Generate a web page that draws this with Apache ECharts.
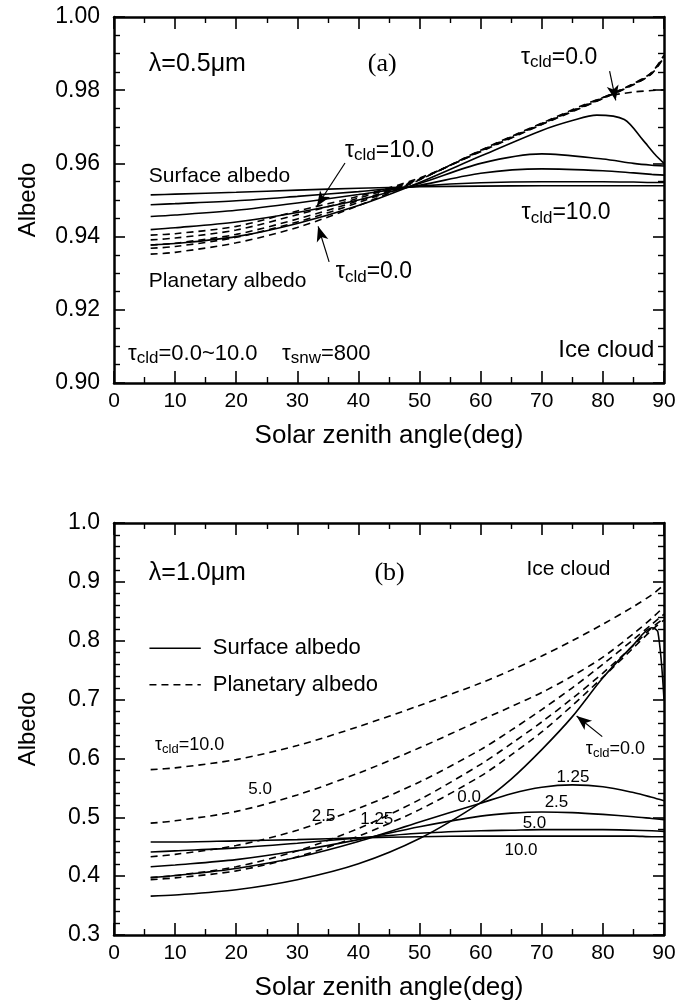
<!DOCTYPE html>
<html lang="en">
<head>
<meta charset="UTF-8">
<title>Albedo vs solar zenith angle</title>
<script src="https://cdn.jsdelivr.net/npm/echarts@6/dist/echarts.min.js"></script>
<style>
    html, body { margin: 0; padding: 0; background: #fff; }
    #main { width: 680px; height: 1006px; }
</style>
</head>
<body>
<div id="main"></div>
<script>
// ---- panel (a): lambda = 0.5 um ----
var angA  = [6, 10, 20, 30, 40, 50, 60, 70, 80, 85, 88, 90];
var angA0 = [6, 10, 20, 30, 40, 50, 60, 70, 75, 79, 83.5, 86.5, 88.5, 90];
// surface albedo (solid), tau_cld = 10, 5, 2.5, 1.25, 0
var surfA10  = [0.9514, 0.9516, 0.9521, 0.9527, 0.9532, 0.9536, 0.9538, 0.9539, 0.9539, 0.9539, 0.9539, 0.9539];
var surfA5   = [0.9487, 0.9490, 0.9498, 0.9510, 0.9523, 0.9538, 0.9547, 0.9550, 0.9550, 0.9549, 0.9548, 0.9548];
var surfA25  = [0.9455, 0.9459, 0.9472, 0.9492, 0.9515, 0.9540, 0.9573, 0.9585, 0.9580, 0.9574, 0.9570, 0.9568];
var surfA125 = [0.9419, 0.9424, 0.9440, 0.9466, 0.9500, 0.9545, 0.9600, 0.9626, 0.9612, 0.9600, 0.9595, 0.9593];
var surfA0   = [0.9377, 0.9381, 0.9400, 0.9436, 0.9485, 0.9548, 0.9620, 0.9690, 0.9717, 0.9732, 0.9720, 0.9665, 0.9625, 0.9600];
// planetary albedo (dashed)
var planA10  = [0.9404, 0.9408, 0.9428, 0.9470, 0.9510, 0.9560, 0.9632, 0.9706, 0.9777, 0.9815, 0.9845, 0.9890];
var planA5   = [0.9391, 0.9396, 0.9418, 0.9460, 0.9505, 0.9558, 0.9633, 0.9707, 0.9778, 0.9816, 0.9846, 0.9892];
var planA25  = [0.9377, 0.9382, 0.9406, 0.9448, 0.9498, 0.9557, 0.9634, 0.9708, 0.9779, 0.9817, 0.9848, 0.9894];
var planA125 = [0.9368, 0.9373, 0.9398, 0.9440, 0.9493, 0.9556, 0.9635, 0.9709, 0.9780, 0.9818, 0.9849, 0.9896];
var planA0   = [0.9352, 0.9357, 0.9383, 0.9425, 0.9485, 0.9555, 0.9636, 0.9710, 0.9780, 0.9795, 0.9799, 0.9801];

// ---- panel (b): lambda = 1.0 um ----
var angB  = [6, 10, 20, 30, 40, 50, 60, 65, 70, 75, 80, 85, 88, 90];
var angB0 = [6, 10, 20, 30, 40, 50, 60, 65, 70, 75, 80, 85, 88, 89, 90];
var surfB10  = [0.458, 0.458, 0.460, 0.462, 0.465, 0.467, 0.468, 0.468, 0.468, 0.468, 0.468, 0.468, 0.467, 0.467];
var surfB5   = [0.441, 0.443, 0.448, 0.456, 0.465, 0.473, 0.477, 0.478, 0.479, 0.479, 0.479, 0.478, 0.477, 0.476];
var surfB25  = [0.416, 0.419, 0.428, 0.443, 0.462, 0.484, 0.502, 0.507, 0.509, 0.508, 0.505, 0.501, 0.498, 0.496];
var surfB125 = [0.3975, 0.401, 0.413, 0.432, 0.459, 0.492, 0.524, 0.540, 0.551, 0.555, 0.552, 0.542, 0.534, 0.528];
var surfB0   = [0.366, 0.368, 0.377, 0.394, 0.421, 0.464, 0.525, 0.565, 0.615, 0.671, 0.737, 0.793, 0.822, 0.815, 0.700];
var planB10  = [0.581, 0.584, 0.598, 0.622, 0.654, 0.690, 0.728, 0.750, 0.774, 0.800, 0.828, 0.858, 0.878, 0.895];
var planB5   = [0.490, 0.494, 0.510, 0.538, 0.575, 0.618, 0.665, 0.688, 0.712, 0.740, 0.772, 0.812, 0.838, 0.858];
var planB25  = [0.433, 0.437, 0.452, 0.478, 0.515, 0.560, 0.615, 0.648, 0.683, 0.720, 0.760, 0.802, 0.828, 0.845];
var planB125 = [0.3975, 0.401, 0.416, 0.443, 0.481, 0.530, 0.590, 0.625, 0.662, 0.702, 0.745, 0.792, 0.822, 0.838];
var planB0   = [0.394, 0.397, 0.409, 0.433, 0.468, 0.513, 0.570, 0.606, 0.645, 0.690, 0.738, 0.788, 0.818, 0.835];

// tick labels
var xTicks = [0, 90, 10];          // min, max, step
var yTicksA = [0.90, 1.00, 0.02];
var yTicksB = [0.3, 1.0, 0.1];

// annotation texts, anchored in data coords: [panel, text, x, y, align, kind]
var notes = [
    [0, 'λ=0.5μm', 5.7, 0.9872, 'left', 'big'],
    [0, '(a)', 43.9, 0.9872, 'center', 'serif'],
    [0, '=0.0', 66.6, 0.9887, 'left', 't'],
    [0, '=10.0', 37.8, 0.9632, 'left', 't'],
    [0, 'Surface albedo', 5.7, 0.9566, 'left', 'n'],
    [0, '=10.0', 66.7, 0.9462, 'left', 't'],
    [0, 'Planetary albedo', 5.7, 0.9279, 'left', 'n'],
    [0, '=0.0', 36.3, 0.9301, 'left', 't'],
    [0, 'snw', 2.3, 0.9077, 'left', 'range'],
    [0, 'Ice cloud', 72.7, 0.9090, 'left', 'ice'],
    [1, 'λ=1.0μm', 5.7, 0.915, 'left', 'big'],
    [1, '(b)', 45.1, 0.915, 'center', 'serif'],
    [1, 'Ice cloud', 67.5, 0.921, 'left', 'n'],
    [1, '=10.0', 6.7, 0.621, 'left', 'st'],
    [1, '5.0', 23.9, 0.548, 'center', 's'],
    [1, '2.5', 34.3, 0.502, 'center', 's'],
    [1, '1.25', 43.0, 0.496, 'center', 's'],
    [1, '0.0', 58.1, 0.534, 'center', 's'],
    [1, '=0.0', 77.2, 0.614, 'left', 'st'],
    [1, '1.25', 75.1, 0.568, 'center', 's'],
    [1, '2.5', 72.4, 0.525, 'center', 's'],
    [1, '5.0', 68.8, 0.490, 'center', 's'],
    [1, '10.0', 66.6, 0.444, 'center', 's']
];
// legend rows of panel (b): [x0, x1, y, dashed, text]
var keyB = [[5.8, 14.2, 0.787, false, 'Surface albedo'], [5.8, 14.2, 0.725, true, 'Planetary albedo']];
// arrows [x0, y0, x1(tip), y1(tip)]
var arrowsA = [[81.1, 0.9852, 82.1, 0.9772], [37.8, 0.9601, 33.2, 0.9483], [35.2, 0.9331, 33.4, 0.9428]];
var arrowsB = [[79.9, 0.637, 75.7, 0.672]];

var FONT = 'Liberation Sans, Arial, sans-serif';
var myChart = echarts.init(document.getElementById('main'));

function pairs(xs, ys) {
    return xs.map(function (x, i) { return [x, ys[i]]; });
}

function curve(name, xs, ys, dashed, g) {
    return {
        name: name,
        type: 'line',
        xAxisIndex: g * 2,
        yAxisIndex: g * 2,
        data: pairs(xs, ys),
        symbol: 'none',
        smooth: 0.3,
        silent: true,
        lineStyle: { color: '#000', width: 1.6, type: dashed ? [7, 5] : 'solid' },
        z: dashed ? 3 : 2
    };
}

function arrowLines(list) {
    return {
        silent: true,
        symbol: ['none', 'arrow'],
        symbolSize: [9, 15],
        label: { show: false },
        lineStyle: { color: '#000', width: 1.2, type: 'solid' },
        data: list.map(function (a) {
            return [{ coord: [a[0], a[1]] }, { coord: [a[2], a[3]] }];
        })
    };
}

function xAxisPair(g) {
    var base = {
        type: 'value',
        gridIndex: g,
        min: xTicks[0], max: xTicks[1], interval: xTicks[2],
        axisLine: { show: true, onZero: false, lineStyle: { color: '#000', width: 2.5 } },
        axisTick: { show: true, inside: true, length: 12, lineStyle: { color: '#000', width: 1.6 } },
        minorTick: { show: true, splitNumber: 2, length: 6, lineStyle: { color: '#000', width: 1.4 } },
        splitLine: { show: false },
        axisLabel: { show: true, color: '#000', fontSize: 21, fontFamily: FONT, margin: 8 },
        name: 'Solar zenith angle(deg)',
        nameLocation: 'middle',
        nameGap: 40,
        nameTextStyle: { color: '#000', fontSize: 26, fontFamily: FONT }
    };
    var top = echarts.util.merge({}, base, true);
    top.position = 'top';
    top.axisLabel = { show: false };
    top.name = '';
    base.position = 'bottom';
    return [base, top];
}

function yAxisPair(g, t, minor, digits) {
    var base = {
        type: 'value',
        gridIndex: g,
        min: t[0], max: t[1], interval: t[2],
        axisLine: { show: true, onZero: false, lineStyle: { color: '#000', width: 2.5 } },
        axisTick: { show: true, inside: true, length: 11, lineStyle: { color: '#000', width: 1.6 } },
        minorTick: { show: true, splitNumber: minor, length: 6, lineStyle: { color: '#000', width: 1.4 } },
        splitLine: { show: false },
        axisLabel: {
            show: true, color: '#000', fontSize: 23, fontFamily: FONT, margin: 14,
            formatter: function (v) { return v.toFixed(digits); }
        },
        name: 'Albedo',
        nameLocation: 'middle',
        nameGap: 74,
        nameTextStyle: { color: '#000', fontSize: 24, fontFamily: FONT }
    };
    var right = echarts.util.merge({}, base, true);
    right.position = 'right';
    right.axisLabel = { show: false };
    right.name = '';
    base.position = 'left';
    return [base, right];
}

var seriesList = [
    curve('sa10', angA, surfA10, false, 0),
    curve('sa5', angA, surfA5, false, 0),
    curve('sa25', angA, surfA25, false, 0),
    curve('sa125', angA, surfA125, false, 0),
    curve('sa0', angA0, surfA0, false, 0),
    curve('pa10', angA, planA10, true, 0),
    curve('pa5', angA, planA5, true, 0),
    curve('pa25', angA, planA25, true, 0),
    curve('pa125', angA, planA125, true, 0),
    curve('pa0', angA, planA0, true, 0),
    curve('sb10', angB, surfB10, false, 1),
    curve('sb5', angB, surfB5, false, 1),
    curve('sb25', angB, surfB25, false, 1),
    curve('sb125', angB, surfB125, false, 1),
    curve('sb0', angB0, surfB0, false, 1),
    curve('pb10', angB, planB10, true, 1),
    curve('pb5', angB, planB5, true, 1),
    curve('pb25', angB, planB25, true, 1),
    curve('pb125', angB, planB125, true, 1),
    curve('pb0', angB, planB0, true, 1)
];
seriesList[0].markLine = arrowLines(arrowsA);
seriesList[10].markLine = arrowLines(arrowsB);

var option = {
    animation: false,
    backgroundColor: '#fff',
    grid: [
        { left: 114, top: 17, width: 550, height: 366, outerBoundsMode: 'none' },
        { left: 114, top: 523, width: 550, height: 412, outerBoundsMode: 'none' }
    ],
    xAxis: xAxisPair(0).concat(xAxisPair(1)),
    yAxis: yAxisPair(0, yTicksA, 4, 2).concat(yAxisPair(1, yTicksB, 5, 1)),
    series: seriesList
};
myChart.setOption(option);

// text notes placed through the grid coordinate systems
function richFor(size, sub) {
    return {
        m: { fontSize: size, fontFamily: FONT, color: '#000', lineHeight: size + 2, padding: [0, 0, 5, 0], verticalAlign: 'top' },
        s: { fontSize: sub, fontFamily: FONT, color: '#000', lineHeight: sub + 1, verticalAlign: 'bottom' }
    };
}

var graphics = notes.map(function (n) {
    var p = myChart.convertToPixel({ gridIndex: n[0] }, [n[2], n[3]]);
    var style = { fill: '#000', align: n[4], verticalAlign: 'middle' };
    if (n[5] === 't') {
        style.text = '{m|τ}{s|cld}{m|' + n[1] + '}';
        style.rich = richFor(23, 17);
    } else if (n[5] === 'st') {
        style.text = '{m|τ}{s|cld}{m|' + n[1] + '}';
        style.rich = richFor(18, 13);
    } else if (n[5] === 'range') {
        style.text = '{m|τ}{s|cld}{m|=0.0~10.0    τ}{s|' + n[1] + '}{m|=800}';
        style.rich = richFor(22, 17);
    } else if (n[5] === 'serif') {
        style.text = n[1];
        style.font = '26px "Liberation Serif", "Times New Roman", serif';
    } else if (n[5] === 's') {
        style.text = n[1];
        style.font = '17px ' + FONT;
    } else if (n[5] === 'big') {
        style.text = n[1];
        style.font = '25px ' + FONT;
    } else if (n[5] === 'ice') {
        style.text = n[1];
        style.font = '24px ' + FONT;
    } else {
        style.text = n[1];
        style.font = '21px ' + FONT;
    }
    return { type: 'text', x: p[0], y: p[1], silent: true, z: 10, style: style };
});

// legend of panel (b): a line sample and its text
keyB.forEach(function (k) {
    var p0 = myChart.convertToPixel({ gridIndex: 1 }, [k[0], k[2]]);
    var p1 = myChart.convertToPixel({ gridIndex: 1 }, [k[1], k[2]]);
    graphics.push({
        type: 'line', silent: true, z: 10,
        shape: { x1: p0[0], y1: p0[1], x2: p1[0], y2: p1[1] },
        style: { stroke: '#000', lineWidth: 1.5, lineDash: k[3] ? [7, 5] : null }
    });
    graphics.push({
        type: 'text', silent: true, z: 10, x: p1[0] + 12, y: p1[1],
        style: { text: k[4], font: '22px ' + FONT, fill: '#000', align: 'left', verticalAlign: 'middle' }
    });
});
myChart.setOption({ graphic: graphics });
</script>
</body>
</html>
